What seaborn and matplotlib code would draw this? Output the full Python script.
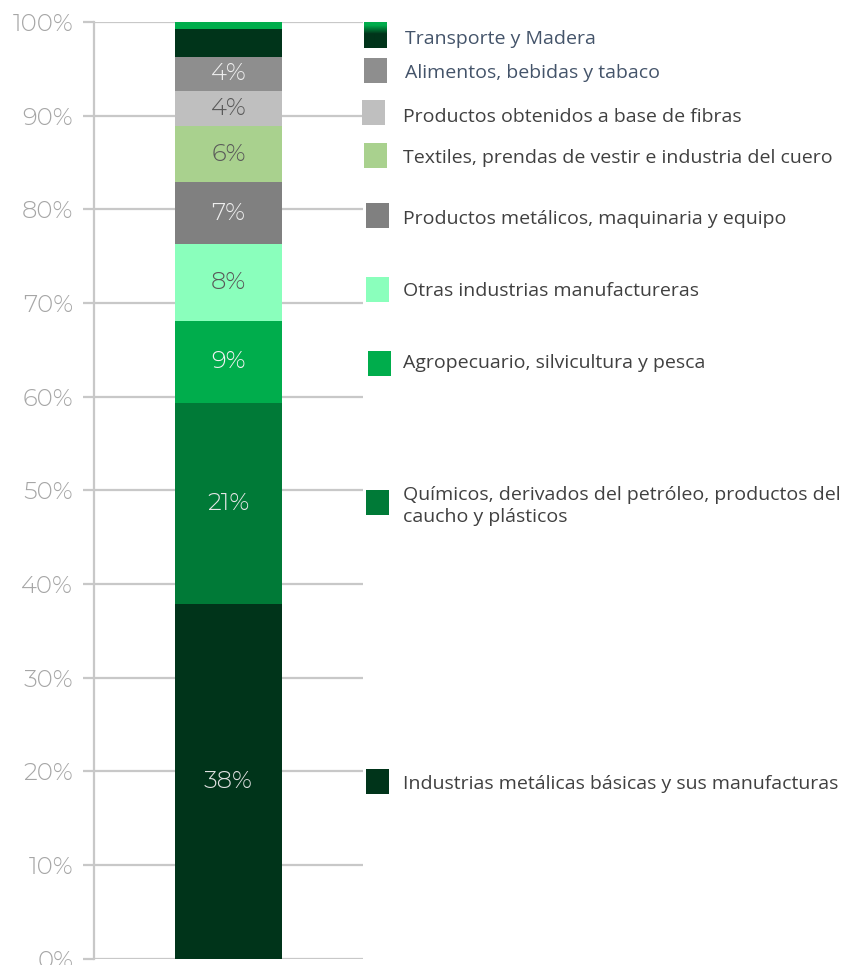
import numpy as np
import pandas as pd
import seaborn as sns
import matplotlib
matplotlib.use("Agg")
import matplotlib.pyplot as plt
from matplotlib.patches import Rectangle

# ---- data (bottom to top) ----
categories = [
    "Industrias metálicas básicas y sus manufacturas",
    "Químicos, derivados del petróleo, productos del\ncaucho y plásticos",
    "Agropecuario, silvicultura y pesca",
    "Otras industrias manufactureras",
    "Productos metálicos, maquinaria y equipo",
    "Textiles, prendas de vestir e industria del cuero",
    "Productos obtenidos a base de fibras",
    "Alimentos, bebidas y tabaco",
    "Transporte y Madera",
    "",
]
values = [37.9, 21.4, 8.8, 8.2, 6.6, 6.0, 3.7, 3.7, 2.9, 0.8]
colors = ["#00341a", "#007a37", "#00ad4c", "#8affbc", "#808080",
          "#a9d18e", "#bfbfbf", "#8e8e8e", "#00341a", "#00ad4c"]
label_colors = ["#e0e0e0", "#e6e6e6", "#f2f2f2", "#595959", "#eeeeee",
                "#595959", "#595959", "#eeeeee", None, None]
ytick_labels = ["0%", "10%", "20%", "30%", "40%", "50%", "60%", "70%", "80%", "90%", "100%"]

df = pd.DataFrame({"cat": categories, "value": values, "color": colors})
df["top"] = df["value"].cumsum()
df["bottom"] = df["top"] - df["value"]

NUMFONT = "Montserrat Alternates"
sns.set_theme(style="white")
W, H = 841, 965
fig = plt.figure(figsize=(W / 100, H / 100), dpi=100)
ax = fig.add_axes([94 / W, 1 - 958.5 / H, (363 - 94) / W, (958.5 - 22) / H])

# stacked bar via overlaid cumulative bars
for i in range(len(df) - 1, -1, -1):
    sns.barplot(x=[""], y=[df["top"][i]], color=df["color"][i], width=0.4,
                saturation=1, ax=ax, zorder=3, linewidth=0)

ax.set_xlim(-0.5, 0.5)
ax.set_ylim(0, 100)
ax.set_yticks(np.arange(0, 101, 10))
ax.set_yticklabels(ytick_labels, fontsize=17.5, color="#a6a6a6",
                   family=NUMFONT, fontweight=300)
ax.set_xticks([])
ax.set_xlabel("")
ax.set_ylabel("")
ax.yaxis.grid(True, color="#c8c8c8", linewidth=1.6, zorder=0)
ax.set_axisbelow(True)
for s in ["top", "right", "bottom"]:
    ax.spines[s].set_visible(False)
ax.spines["left"].set_color("#c8c8c8")
ax.spines["left"].set_linewidth(1.6)
ax.tick_params(axis="y", length=8, width=1.6, color="#c8c8c8", pad=7, left=True)

# segment labels
for i, row in df.iterrows():
    if label_colors[i] is None:
        continue
    ax.text(0, (row["bottom"] + row["top"]) / 2, f"{row['value']:.0f}%",
            ha="center", va="center", fontsize=17.5, color=label_colors[i],
            family=NUMFONT, fontweight=300, zorder=5)

# ---- manual legend ----
leg_items = [
    # (cat index, marker x0, marker y0, label y center, text color)
    (8, 364, 22, 39, "#44546a"),
    (7, 364, 58, 73, "#44546a"),
    (6, 362, 100, 117, "#404040"),
    (5, 364, 143, 158, "#404040"),
    (4, 366, 203, 219, "#404040"),
    (3, 366, 277, 291, "#404040"),
    (2, 368, 351, 363, "#404040"),
    (1, 366, 490, 506, "#404040"),
    (0, 366, 769, 784, "#404040"),
]
for idx, mx, my, ty, tc in leg_items:
    if idx == 8:
        gax = fig.add_axes([mx / W, 1 - (my + 26) / H, 23 / W, 26 / H])
        grad = np.linspace(0, 1, 26)
        c1 = np.array(matplotlib.colors.to_rgb("#00ad4c"))
        c2 = np.array(matplotlib.colors.to_rgb("#00341a"))
        t = np.clip((grad - 0.1) / 0.35, 0, 1)[:, None]
        img = (c1 * (1 - t) + c2 * t)[:, None, :]
        gax.imshow(img, aspect="auto", interpolation="bilinear")
        gax.axis("off")
    else:
        fig.patches.append(Rectangle((mx / W, 1 - (my + 25) / H), 23 / W, 25 / H,
                                     transform=fig.transFigure,
                                     facecolor=colors[idx], edgecolor="none"))
    tx = 405 if idx in (7, 8) else 403
    fig.text(tx / W, 1 - ty / H, categories[idx], ha="left", va="center",
             fontsize=14, color=tc, family="Open Sans", linespacing=1.35)

fig.savefig("out.png", dpi=100)
